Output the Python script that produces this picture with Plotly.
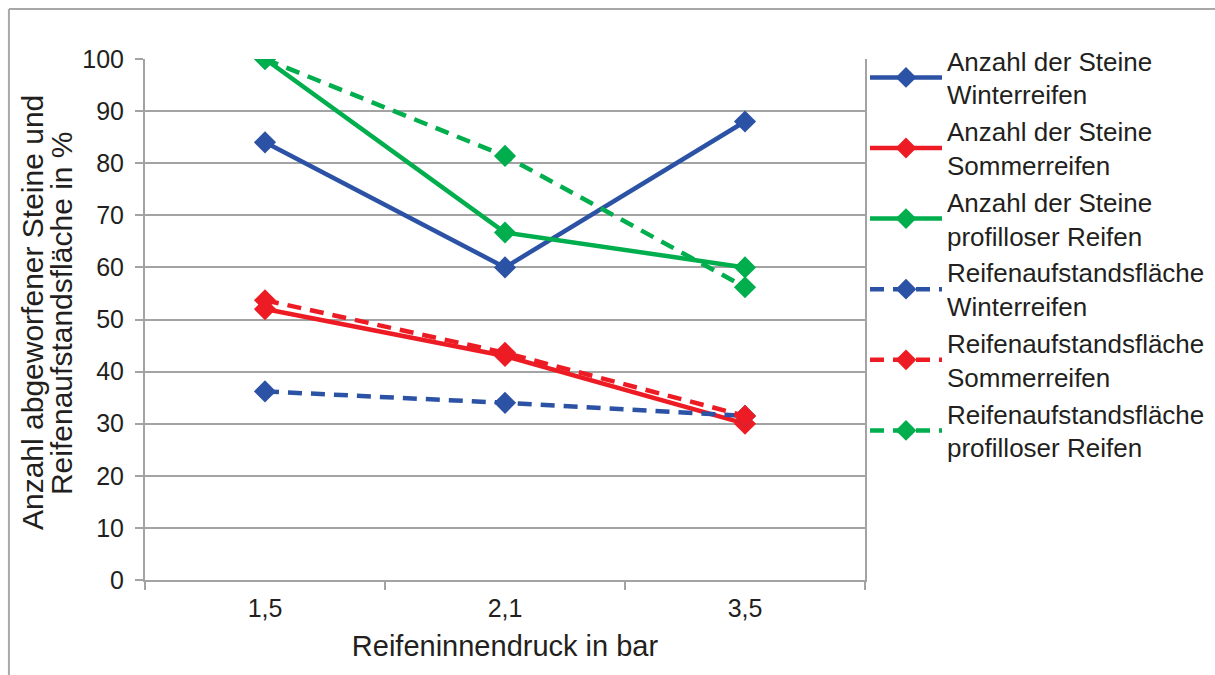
import plotly.graph_objects as go

# Reifeninnendruck (bar) categories
pressures = ["1,5", "2,1", "3,5"]

# Anzahl abgeworfener Steine (%)
steine_winter = [84, 60, 88]
steine_sommer = [52, 43, 30]
steine_profillos = [100, 66.7, 60]

# Reifenaufstandsfläche (%)
flaeche_winter = [36.2, 34.0, 31.5]
flaeche_sommer = [53.7, 43.6, 31.5]
flaeche_profillos = [100, 81.4, 56.2]

y_ticks = list(range(0, 101, 10))
y_title_lines = ["Anzahl abgeworfener Steine und", "Reifenaufstandsfläche in %"]

BLUE = "#2B52A5"
RED = "#ED1C24"
GREEN = "#00AE4D"
GRID = "#A3A3A3"
TEXT = "#231F20"
FONT = "Liberation Sans, Arial, sans-serif"

series = [
    ("Anzahl der Steine<br>Winterreifen", steine_winter, BLUE, "solid"),
    ("Anzahl der Steine<br>Sommerreifen", steine_sommer, RED, "solid"),
    ("Anzahl der Steine<br>profilloser Reifen", steine_profillos, GREEN, "solid"),
    ("Reifenaufstandsfläche<br>Winterreifen", flaeche_winter, BLUE, "14px,9px"),
    ("Reifenaufstandsfläche<br>Sommerreifen", flaeche_sommer, RED, "14px,9px"),
    ("Reifenaufstandsfläche<br>profilloser Reifen", flaeche_profillos, GREEN, "14px,9px"),
]

fig = go.Figure()
for name, vals, color, dash in series:
    fig.add_trace(go.Scatter(
        x=pressures, y=vals, name=name, mode="lines+markers",
        line=dict(color=color, width=4.5, dash=dash),
        marker=dict(symbol="diamond", size=17, color=color),
    ))

# outer frame (top and left edges)
fig.add_shape(type="line", xref="paper", yref="paper",
              x0=-0.189, x1=1.49, y0=1.096, y1=1.096,
              line=dict(color="#A8A8A8", width=2))
fig.add_shape(type="line", xref="paper", yref="paper",
              x0=-0.189, x1=-0.189, y0=1.096, y1=-0.19,
              line=dict(color="#A8A8A8", width=2))

# two-line rotated y-axis title
for xpos, line in zip([-0.1555, -0.1152], y_title_lines):
    fig.add_annotation(
        text=line, xref="paper", yref="paper", x=xpos, y=0.5125,
        xanchor="center", yanchor="middle", textangle=-90, showarrow=False,
        font=dict(family=FONT, size=30, color=TEXT),
    )

fig.update_layout(
    width=1215, height=675,
    margin=dict(l=145, r=350, t=59, b=95, autoexpand=False),
    paper_bgcolor="white", plot_bgcolor="white",
    font=dict(family=FONT, size=25, color=TEXT),
    showlegend=True,
    legend=dict(
        x=1.0, y=1.042, xanchor="left", yanchor="top",
        itemwidth=72, maxheight=620, tracegroupgap=0,
        font=dict(family=FONT, size=26, color=TEXT),
        bgcolor="rgba(0,0,0,0)",
    ),
    xaxis=dict(
        type="category", range=[-0.5, 2.5],
        tickson="boundaries", ticks="outside", ticklen=8,
        tickcolor=GRID, tickwidth=2,
        showline=True, linecolor=GRID, linewidth=2,
        showgrid=False, zeroline=False,
        tickfont=dict(size=25), ticklabelstandoff=5,
        title=dict(text="Reifeninnendruck in bar", font=dict(size=29), standoff=15),
    ),
    yaxis=dict(
        range=[0, 100], tickvals=y_ticks,
        ticks="outside", ticklen=8, tickcolor=GRID, tickwidth=2,
        showline=True, mirror=True, linecolor=GRID, linewidth=2,
        showgrid=True, gridcolor=GRID, gridwidth=1.5,
        zeroline=False,
        tickfont=dict(size=25), ticklabelstandoff=6,
    ),
)

fig.write_html("out.html")
